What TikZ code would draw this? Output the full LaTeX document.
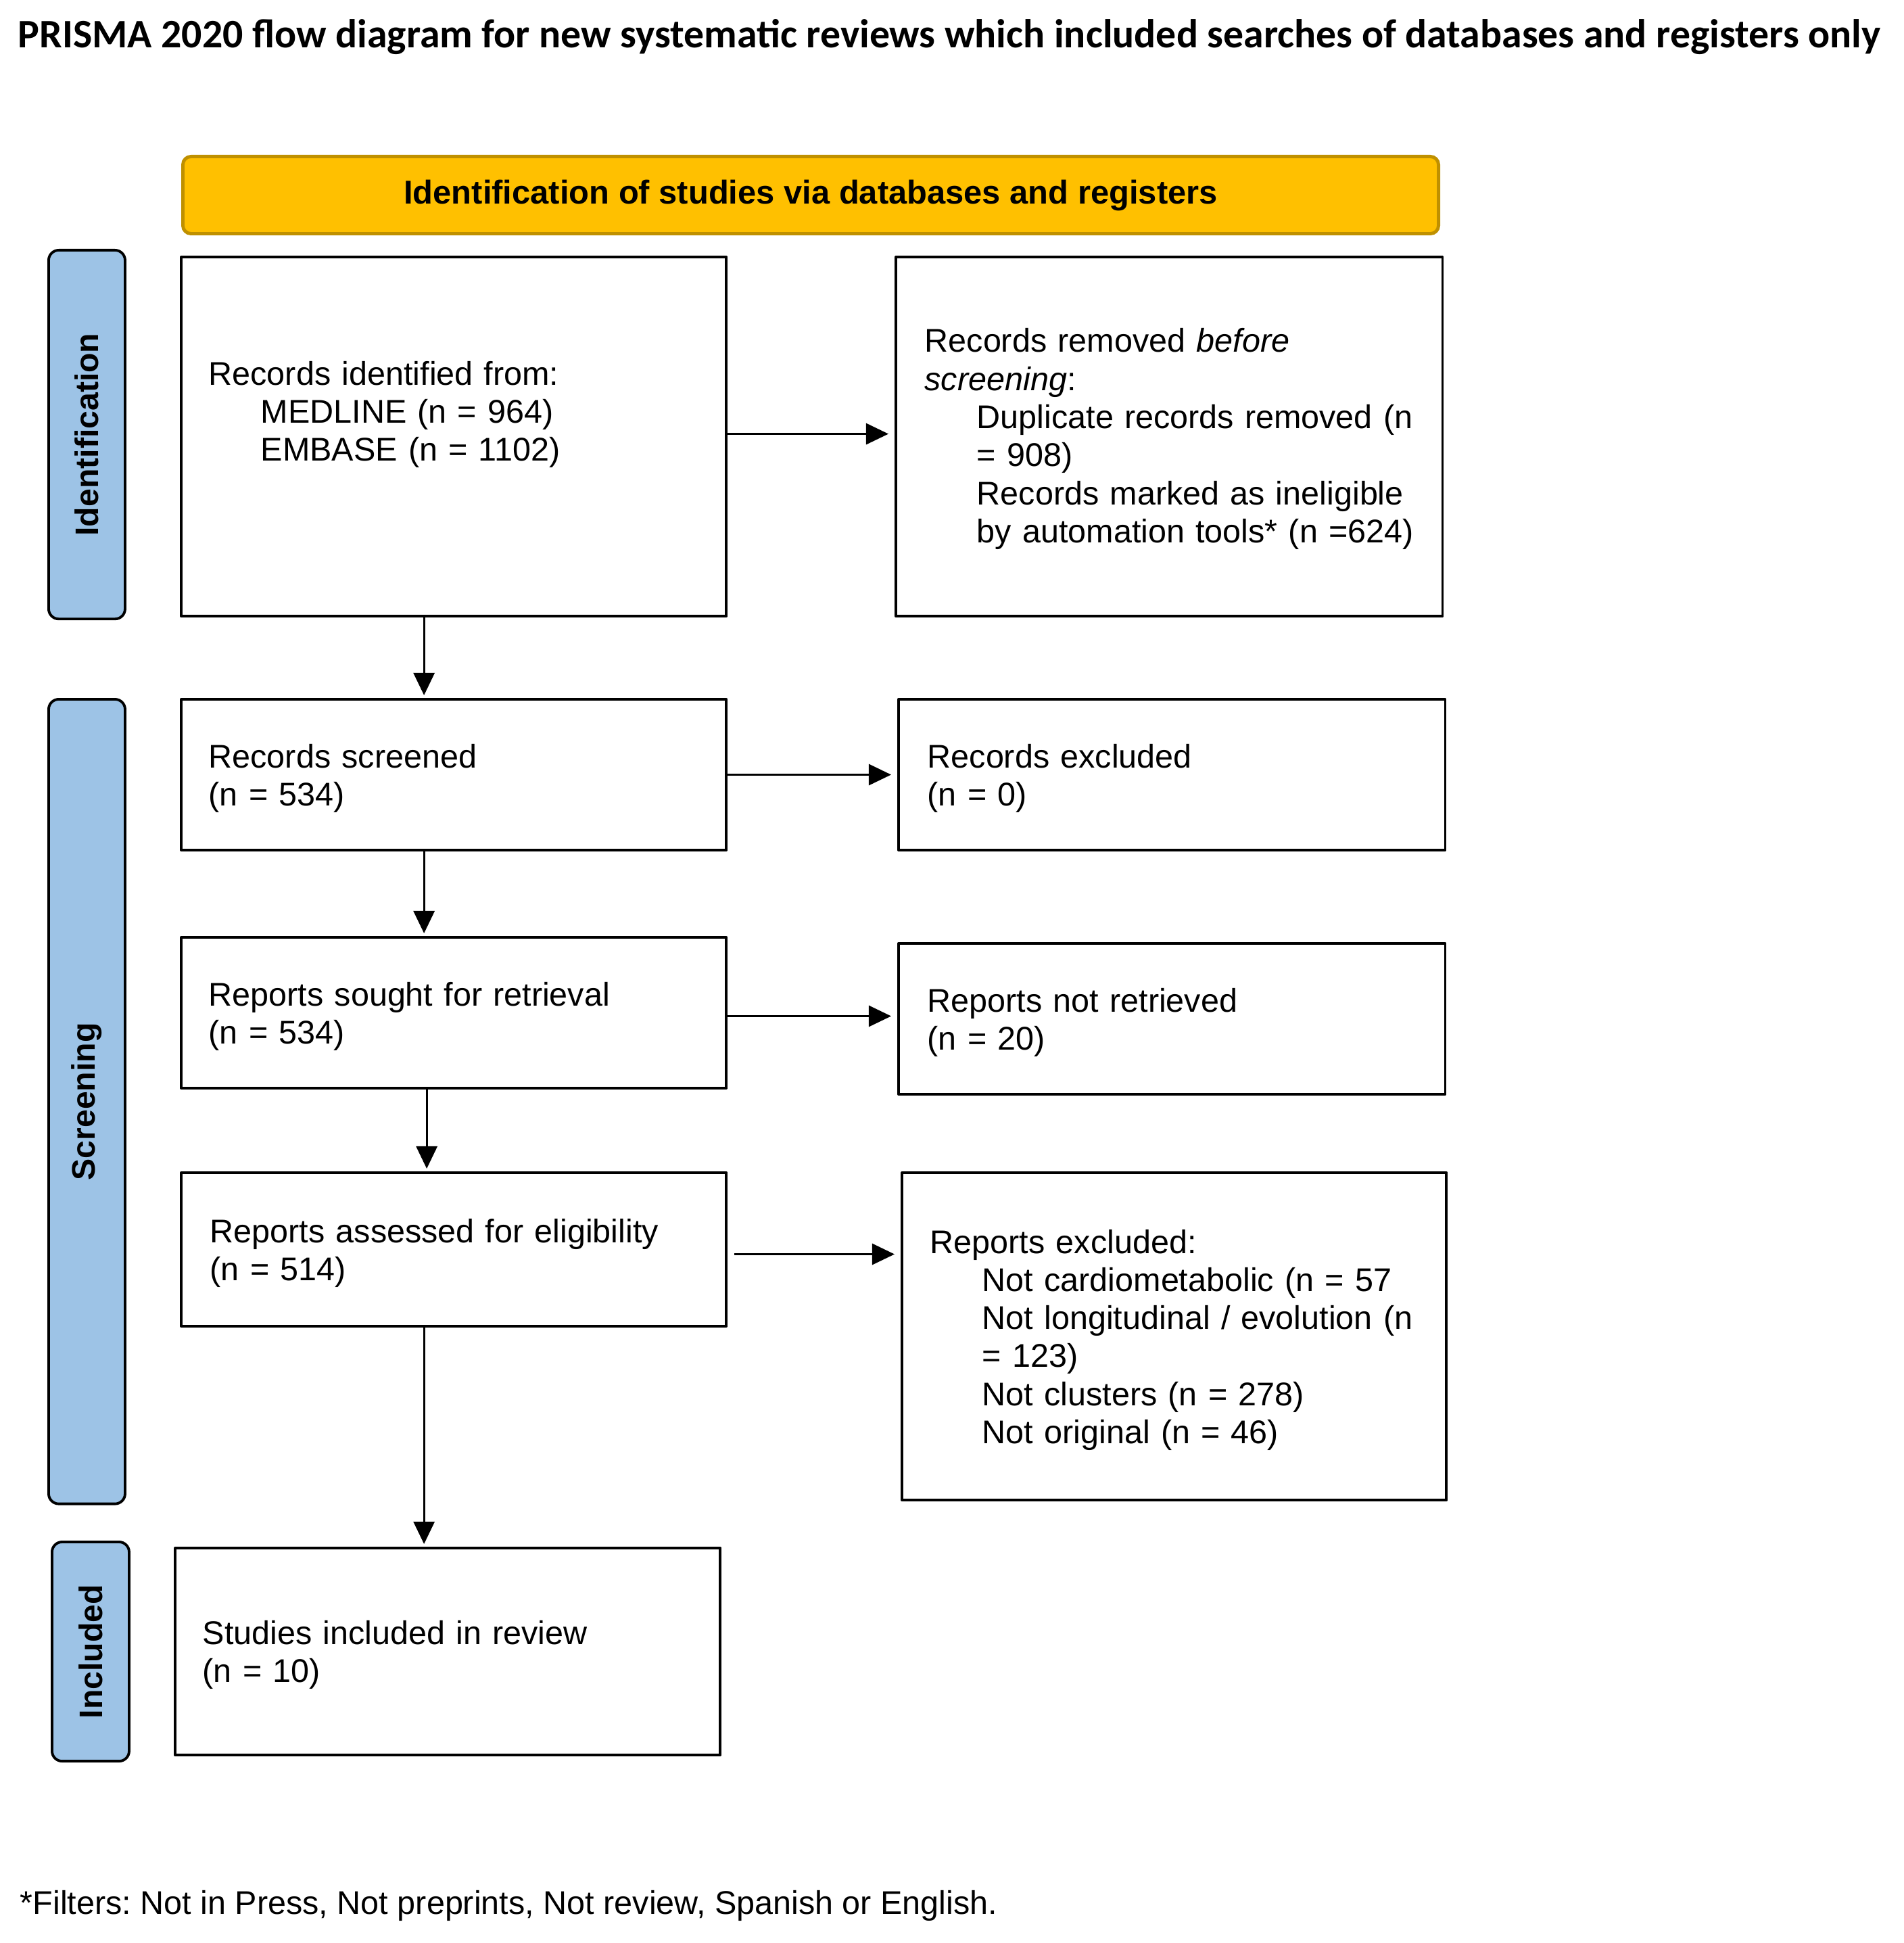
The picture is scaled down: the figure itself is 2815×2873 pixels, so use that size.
\documentclass[tikz,border=0pt]{standalone}
\usepackage{fontspec}
\setmainfont{Liberation Sans}
\newfontfamily\titlefont{Carlito}
\usetikzlibrary{arrows.meta,calc}
\definecolor{phaseblue}{RGB}{157,195,230}
\definecolor{headyellow}{RGB}{255,192,0}
\definecolor{headgold}{RGB}{191,144,0}
\newcommand{\indt}{\hspace*{0.77cm}}
\frenchspacing

\begin{document}
\begin{tikzpicture}[x=0.01cm,y=-0.01cm,line join=round,
  box/.style={draw,line width=1.1pt,anchor=north west,inner sep=0pt},
  txt/.style={anchor=base west,inner sep=0pt,align=left,text width=7.8cm,font=\fontsize{13.8}{16}\selectfont},
  phase/.style={draw,line width=1.1pt,rounded corners=0.15cm,fill=phaseblue,anchor=north west,inner sep=0pt},
  phasetxt/.style={rotate=90,inner sep=0pt,font=\bfseries\fontsize{13.7}{16}\selectfont},
  arr/.style={line width=0.85pt,-{Triangle[length=0.33cm,width=0.31cm]}}]
  \useasboundingbox (0,0) rectangle (2815,2873);

  \node[anchor=base west,inner sep=0pt,font=\titlefont\bfseries\fontsize{17}{20}\selectfont] (title) at (26,71)
    {PRISMA 2020 flow diagram for new systematic reviews which included searches of databases and registers only};

  \node[draw=headgold,fill=headyellow,line width=1.4pt,rounded corners=0.12cm,anchor=north west,
    minimum width=18.56cm,minimum height=1.14cm,font=\bfseries\fontsize{13.9}{16}\selectfont] (head) at (268,229)
    {Identification of studies via databases and registers};

  \node[phase,minimum width=1.13cm,minimum height=5.45cm] (pident) at (70,368) {};
  \node[phasetxt] (pidentT) at (pident.center) {Identification};
  \node[phase,minimum width=1.13cm,minimum height=11.89cm] (pscreen) at (70,1032) {};
  \node[phasetxt] (pscreenT) at (pscreen.center) {Screening};
  \node[phase,minimum width=1.14cm,minimum height=3.24cm] (pincl) at (75,2278) {};
  \node[phasetxt] (pinclT) at (pincl.center) {Included};

  \node[box,minimum width=8.06cm,minimum height=5.31cm] (ident) at (266,378) {};
  \node[box,minimum width=8.08cm,minimum height=5.31cm] (removed) at (1323,378) {};
  \node[box,minimum width=8.06cm,minimum height=2.23cm] (screened) at (266,1032) {};
  \node[box,minimum width=8.08cm,minimum height=2.23cm] (excluded) at (1327,1032) {};
  \node[box,minimum width=8.06cm,minimum height=2.23cm] (sought) at (266,1384) {};
  \node[box,minimum width=8.08cm,minimum height=2.23cm] (notretr) at (1327,1393) {};
  \node[box,minimum width=8.06cm,minimum height=2.27cm] (assessed) at (266,1732) {};
  \node[box,minimum width=8.05cm,minimum height=4.84cm] (repexcl) at (1332,1732) {};
  \node[box,minimum width=8.06cm,minimum height=3.06cm] (included) at (257,2287) {};

  \node[txt] (identT) at (308,569)
    {Records identified from:\\\indt MEDLINE (n = 964)\\\indt EMBASE (n = 1102)};
  \node[txt] (removedT) at (1367,521)
    {Records removed \textit{before}\\\textit{screening}:\\\indt Duplicate records removed (n\\\indt = 908)\\
     \indt Records marked as ineligible\\\indt by automation tools* (n =624)};
  \node[txt] (screenedT) at (308,1135) {Records screened\\(n = 534)};
  \node[txt] (excludedT) at (1371,1135) {Records excluded\\(n = 0)};
  \node[txt] (soughtT) at (308,1487) {Reports sought for retrieval\\(n = 534)};
  \node[txt] (notretrT) at (1371,1496) {Reports not retrieved\\(n = 20)};
  \node[txt] (assessedT) at (310,1837) {Reports assessed for eligibility\\(n = 514)};
  \node[txt] (repexclT) at (1375,1853)
    {Reports excluded:\\\indt Not cardiometabolic (n = 57\\\indt Not longitudinal / evolution (n\\\indt = 123)\\
     \indt Not clusters (n = 278)\\\indt Not original (n = 46)};
  \node[txt] (includedT) at (299,2431) {Studies included in review\\(n = 10)};

  \node[anchor=base west,inner sep=0pt,font=\fontsize{13.8}{16}\selectfont] (note) at (29,2830)
    {*Filters: Not in Press, Not preprints, Not review, Spanish or English.};

  \draw[arr,shorten >=0.09cm] ([yshift=0.04cm]ident.east) -- ([yshift=0.04cm]ident.east -| removed.west);
  \draw[arr,shorten >=0.09cm] (screened.east) -- (screened.east -| excluded.west);
  \draw[arr,shorten >=0.09cm] ([yshift=-0.05cm]sought.east) -- ([yshift=-0.05cm]sought.east -| notretr.west);
  \draw[arr,shorten >=0.09cm] ([xshift=0.1cm,yshift=-0.07cm]assessed.east) -- ([yshift=-0.07cm]assessed.east -| repexcl.west);

  \draw[arr,shorten >=0.04cm] ([xshift=-0.44cm]ident.south) -- ([xshift=-0.44cm]ident.south |- screened.north);
  \draw[arr,shorten >=0.04cm] ([xshift=-0.44cm]screened.south) -- ([xshift=-0.44cm]screened.south |- sought.north);
  \draw[arr,shorten >=0.04cm] ([xshift=-0.40cm]sought.south) -- ([xshift=-0.40cm]sought.south |- assessed.north);
  \draw[arr,shorten >=0.04cm] ([xshift=-0.44cm]assessed.south) -- ([xshift=-0.44cm]assessed.south |- included.north);
\end{tikzpicture}
\end{document}
